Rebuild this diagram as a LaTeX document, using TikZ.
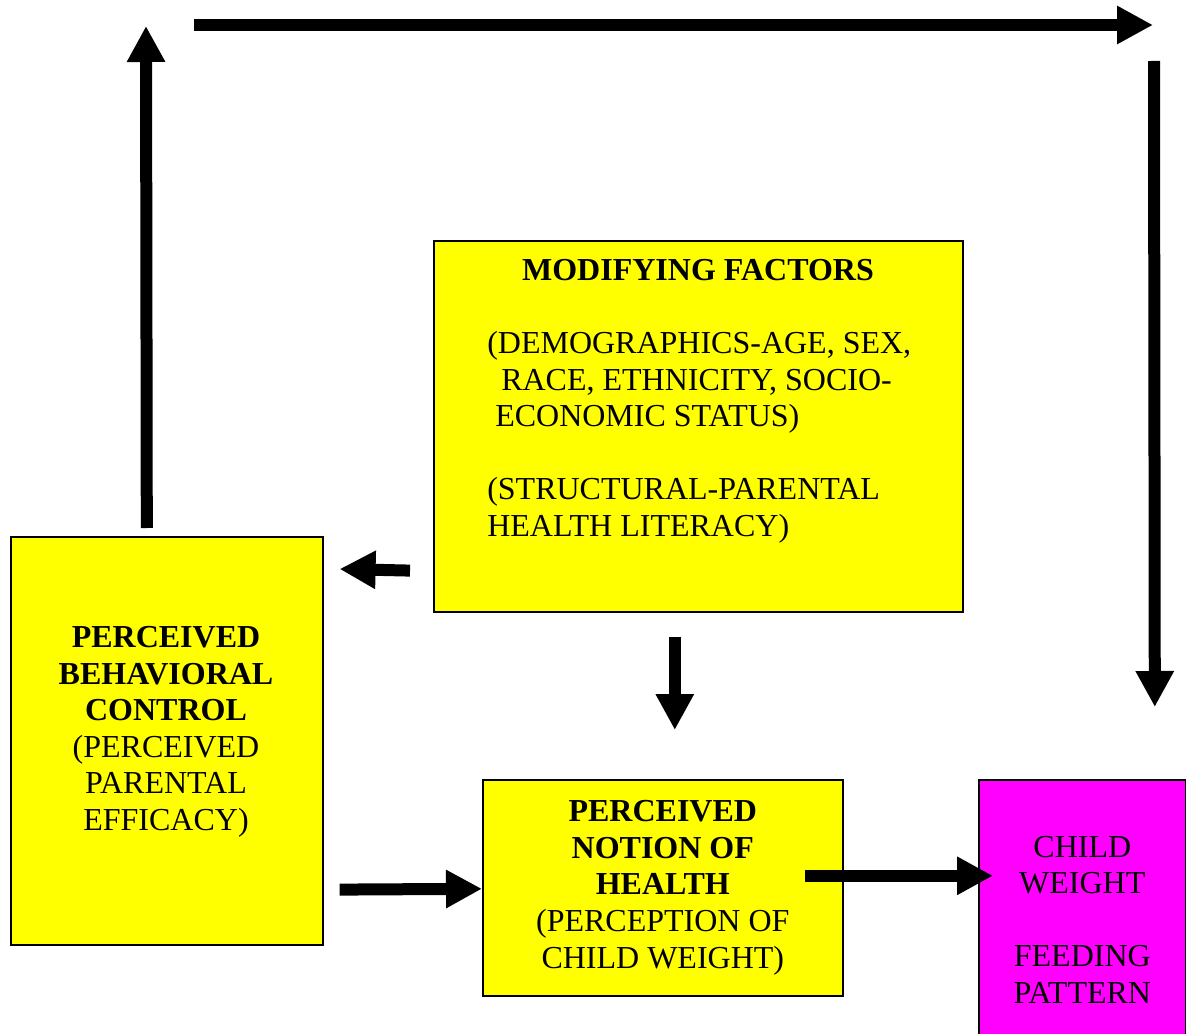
\documentclass[tikz,border=0pt]{standalone}
\usepackage{fontspec}
\setmainfont{Liberation Serif}
\usetikzlibrary{arrows.meta}
\usetikzlibrary{positioning}

\definecolor{boxyellow}{RGB}{255,255,0}
\definecolor{boxmagenta}{RGB}{255,0,255}

\tikzset{
  box/.style={draw=black, line width=1.2pt, inner sep=0pt, align=center,
    font=\fontsize{24}{27.4}\selectfont},
  ybox/.style={box, fill=boxyellow},
  mbox/.style={box, fill=boxmagenta},
  txt/.style={inner sep=0pt, font=\fontsize{24}{27.4}\selectfont},
  bigarrow/.style={line width=9pt, -{Triangle[width=27pt, length=27pt]}},
}

\begin{document}
\begin{tikzpicture}[x=0.75pt, y=-0.75pt]
      \useasboundingbox (0,0) rectangle (1186,1034);
      \clip (0,0) rectangle (1186,1034);
      % boxes
      \node[ybox, anchor=north west, minimum width=396.75pt, minimum height=278.25pt] (mod) at (433,240) {};
      \node[txt, font=\fontsize{24}{27.4}\selectfont\bfseries] (modhead) at (698,270) {MODIFYING FACTORS};
      \node[txt, anchor=north west, align=left] (modtxt) at (487,331) {(DEMOGRAPHICS-AGE, SEX,\\\hspace*{10.5pt}RACE, ETHNICITY, SOCIO-\\\hspace*{6pt}ECONOMIC STATUS)\\[27.4pt](STRUCTURAL-PARENTAL\\HEALTH LITERACY)};
      \node[ybox, anchor=north west, minimum width=234pt, minimum height=306pt] (pbc) at (10,536) {};
      \node[txt, align=center] (pbctxt) at (166,732) {\textbf{PERCEIVED}\\\textbf{BEHAVIORAL}\\\textbf{CONTROL}\\(PERCEIVED\\PARENTAL\\EFFICACY)};
      \node[ybox, anchor=north west, minimum width=270pt, minimum height=162pt] (pnh) at (482,779) {\textbf{PERCEIVED}\\\textbf{NOTION OF}\\\textbf{HEALTH}\\(PERCEPTION OF\\CHILD WEIGHT)};
      \node[mbox, anchor=north west, minimum width=155.25pt, minimum height=210pt] (cw) at (978,779) {CHILD\\WEIGHT\\[27.4pt]FEEDING\\PATTERN};
      % loose ends of the long arrows
      \coordinate (upend) at (146,26);
      \coordinate (topl) at (194,25);
      \coordinate (topr) at (1153,25);
      \coordinate (rtop) at (1154,61);
      % arrows
      \draw[bigarrow] ([shift={(-20,-8)}]pbc.north) -- (upend);
      \draw[bigarrow] (topl) -- (topr);
      \draw[bigarrow] (rtop) -- ([shift={(72.5,-72)}]cw.north);
      \draw[bigarrow] ([shift={(-23,-42)}]mod.south west) -- ([shift={(16,33)}]pbc.north east);
      \draw[bigarrow] ([shift={(-23.5,24)}]mod.south) -- ([shift={(12,-49)}]pnh.north);
      \draw[bigarrow] ([shift={(16,-56)}]pbc.south east) -- ([shift={(0,1)}]pnh.west);
      \draw[bigarrow] ([shift={(-39,-12)}]pnh.east) -- ([shift={(15,-44)}]cw.west);
\end{tikzpicture}
\end{document}
